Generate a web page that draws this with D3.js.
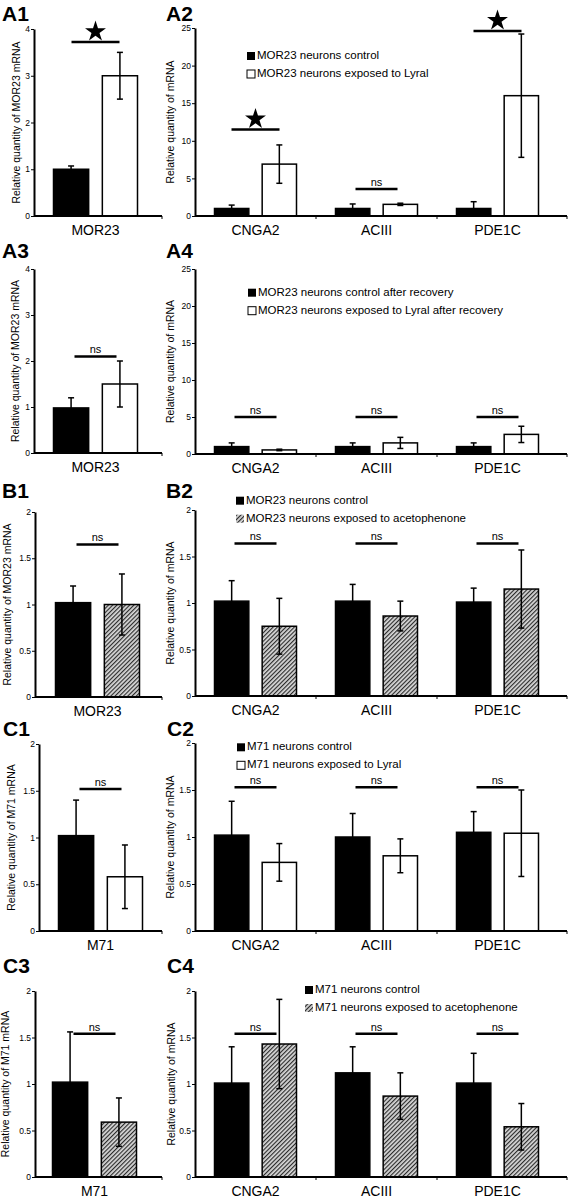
<!DOCTYPE html>
<html><head><meta charset="utf-8">
<script src="https://cdn.jsdelivr.net/npm/d3@7"></script>
<style>body{margin:0;background:#fff}svg{display:block}text{font-family:"Liberation Sans",Arial,sans-serif;fill:#000}</style>
</head><body><svg id="c" width="569" height="1199"></svg>
<script>
// ---------- data ----------
const catsMOR23 = ["MOR23"];
const catsM71 = ["M71"];
const catsGenes = ["CNGA2", "ACIII", "PDE1C"];

const ticksA1 = [0, 1, 2, 3, 4];
const ticksA2 = [0, 5, 10, 15, 20, 25];
const ticksB = [0, 0.5, 1, 1.5, 2];

const ylabMOR23 = "Relative quantity of MOR23 mRNA";
const ylabM71 = "Relative quantity of M71 mRNA";
const ylabGenes = "Relative quantity of mRNA";

const a1Control = [1.0], a1ControlErr = [0.07], a1Treated = [3.0], a1TreatedErr = [0.5];
const a1Sig = ["★"], a1SigLevel = [3.72];

const a2Control = [1.0, 1.0, 1.0], a2ControlErr = [0.45, 0.6, 0.9];
const a2Treated = [6.9, 1.55, 16.0], a2TreatedErr = [2.55, 0.15, 8.2];
const a2Sig = ["★", "ns", "★"], a2SigLevel = [11.5, 3.6, 24.6];
const a2Legend = ["MOR23 neurons control", "MOR23 neurons exposed to Lyral"];

const a3Control = [0.98], a3ControlErr = [0.22], a3Treated = [1.5], a3TreatedErr = [0.5];
const a3Sig = ["ns"], a3SigLevel = [2.1];

const a4Control = [1.0, 1.0, 1.0], a4ControlErr = [0.5, 0.5, 0.5];
const a4Treated = [0.55, 1.5, 2.65], a4TreatedErr = [0.1, 0.75, 1.1];
const a4Sig = ["ns", "ns", "ns"], a4SigLevel = [5.0, 5.0, 5.0];
const a4Legend = ["MOR23 neurons control after recovery", "MOR23 neurons exposed to Lyral after recovery"];

const b1Control = [1.02], b1ControlErr = [0.18], b1Treated = [1.0], b1TreatedErr = [0.33];
const b1Sig = ["ns"], b1SigLevel = [1.65];

const b2Control = [1.02, 1.02, 1.01], b2ControlErr = [0.22, 0.18, 0.15];
const b2Treated = [0.75, 0.86, 1.15], b2TreatedErr = [0.30, 0.16, 0.42];
const b2Sig = ["ns", "ns", "ns"], b2SigLevel = [1.64, 1.64, 1.64];
const b2Legend = ["MOR23 neurons control", "MOR23 neurons exposed to acetophenone"];

const c1Control = [1.02], c1ControlErr = [0.38], c1Treated = [0.58], c1TreatedErr = [0.34];
const c1Sig = ["ns"], c1SigLevel = [1.52];

const c2Control = [1.02, 1.0, 1.05], c2ControlErr = [0.36, 0.25, 0.22];
const c2Treated = [0.73, 0.80, 1.04], c2TreatedErr = [0.20, 0.18, 0.46];
const c2Sig = ["ns", "ns", "ns"], c2SigLevel = [1.53, 1.53, 1.53];
const c2Legend = ["M71 neurons control", "M71 neurons exposed to Lyral"];

const c3Control = [1.02], c3ControlErr = [0.54], c3Treated = [0.59], c3TreatedErr = [0.26];
const c3Sig = ["ns"], c3SigLevel = [1.54];

const c4Control = [1.01, 1.12, 1.01], c4ControlErr = [0.39, 0.28, 0.32];
const c4Treated = [1.43, 0.87, 0.54], c4TreatedErr = [0.48, 0.25, 0.25];
const c4Sig = ["ns", "ns", "ns"], c4SigLevel = [1.54, 1.54, 1.54];
const c4Legend = ["M71 neurons control", "M71 neurons exposed to acetophenone"];

// ---------- layout ----------
const svg = d3.select("#c");
const defs = svg.append("defs");
const pat = defs.append("pattern").attr("id", "hatch").attr("patternUnits", "userSpaceOnUse")
  .attr("width", 3).attr("height", 3).attr("patternTransform", "rotate(45)");
pat.append("rect").attr("width", 3).attr("height", 3).attr("fill", "#d8d8d8");
pat.append("line").attr("x1", 0.6).attr("y1", 0).attr("x2", 0.6).attr("y2", 3).attr("stroke", "#222").attr("stroke-width", 1.1);

const RIGHT = {x0: 195, x1: 567, bandEnd: 558, half: 41};

const panels = [
  {title: "A1", tx: 2, ty: 21, x0: 34, x1: 162, bandEnd: 157, half: 42, y0: 216, yTop: 29, max: 4, ticks: ticksA1, ylab: ylabMOR23, ylx: 17.5,
   cats: catsMOR23, ctl: a1Control, ctlE: a1ControlErr, trt: a1Treated, trtE: a1TreatedErr, style: "white", sig: a1Sig, sigL: a1SigLevel},
  {title: "A2", tx: 166, ty: 21, ...RIGHT, y0: 216, yTop: 28, max: 25, ticks: ticksA2, ylab: ylabGenes, ylx: 171,
   cats: catsGenes, ctl: a2Control, ctlE: a2ControlErr, trt: a2Treated, trtE: a2TreatedErr, style: "white", sig: a2Sig, sigL: a2SigLevel,
   legend: a2Legend, lx: 247, ly: 56},
  {title: "A3", tx: 2, ty: 258, x0: 34, x1: 162, bandEnd: 157, half: 42, y0: 453, yTop: 269, max: 4, ticks: ticksA1, ylab: ylabMOR23, ylx: 16.5,
   cats: catsMOR23, ctl: a3Control, ctlE: a3ControlErr, trt: a3Treated, trtE: a3TreatedErr, style: "white", sig: a3Sig, sigL: a3SigLevel},
  {title: "A4", tx: 166, ty: 258, ...RIGHT, y0: 454, yTop: 269, max: 25, ticks: ticksA2, ylab: ylabGenes, ylx: 171,
   cats: catsGenes, ctl: a4Control, ctlE: a4ControlErr, trt: a4Treated, trtE: a4TreatedErr, style: "white", sig: a4Sig, sigL: a4SigLevel,
   legend: a4Legend, lx: 248, ly: 292.7},
  {title: "B1", tx: 2, ty: 498, x0: 35, x1: 162, bandEnd: 160, half: 42, y0: 697, yTop: 512, max: 2, ticks: ticksB, ylab: ylabMOR23, ylx: 8,
   cats: catsMOR23, ctl: b1Control, ctlE: b1ControlErr, trt: b1Treated, trtE: b1TreatedErr, style: "hatch", sig: b1Sig, sigL: b1SigLevel},
  {title: "B2", tx: 166, ty: 498, ...RIGHT, y0: 696, yTop: 510, max: 2, ticks: ticksB, ylab: ylabGenes, ylx: 171,
   cats: catsGenes, ctl: b2Control, ctlE: b2ControlErr, trt: b2Treated, trtE: b2TreatedErr, style: "hatch", sig: b2Sig, sigL: b2SigLevel,
   legend: b2Legend, lx: 236, ly: 500.7},
  {title: "C1", tx: 3, ty: 736, x0: 39, x1: 162, bandEnd: 162, half: 42, y0: 931, yTop: 744, max: 2, ticks: ticksB, ylab: ylabM71, ylx: 12.5,
   cats: catsM71, ctl: c1Control, ctlE: c1ControlErr, trt: c1Treated, trtE: c1TreatedErr, style: "white", sig: c1Sig, sigL: c1SigLevel},
  {title: "C2", tx: 167, ty: 736, ...RIGHT, y0: 931, yTop: 743, max: 2, ticks: ticksB, ylab: ylabGenes, ylx: 171,
   cats: catsGenes, ctl: c2Control, ctlE: c2ControlErr, trt: c2Treated, trtE: c2TreatedErr, style: "white", sig: c2Sig, sigL: c2SigLevel,
   legend: c2Legend, lx: 237, ly: 747.3},
  {title: "C3", tx: 3, ty: 973, x0: 35, x1: 162, bandEnd: 154, half: 42, y0: 1177, yTop: 991, max: 2, ticks: ticksB, ylab: ylabM71, ylx: 6,
   cats: catsM71, ctl: c3Control, ctlE: c3ControlErr, trt: c3Treated, trtE: c3TreatedErr, style: "hatch", sig: c3Sig, sigL: c3SigLevel},
  {title: "C4", tx: 167, ty: 973, ...RIGHT, y0: 1177, yTop: 991, max: 2, ticks: ticksB, ylab: ylabGenes, ylx: 172,
   cats: catsGenes, ctl: c4Control, ctlE: c4ControlErr, trt: c4Treated, trtE: c4TreatedErr, style: "hatch", sig: c4Sig, sigL: c4SigLevel,
   legend: c4Legend, lx: 305, ly: 990}
];

function fillFor(series, style) {
  if (series === "c") return "#000";
  return style === "hatch" ? "url(#hatch)" : "#fff";
}

panels.forEach(p => {
  const g = svg.append("g");
  const y = d3.scaleLinear().domain([0, p.max]).range([p.y0, p.yTop]);
  const x = d3.scaleBand().domain(p.cats).range([p.x0, p.bandEnd]);
  const inner = d3.scaleBand().domain(["c", "t"]).range([-p.half, p.half]).paddingInner(0.28);

  // title
  g.append("text").attr("x", p.tx).attr("y", p.ty).attr("font-size", 21).attr("font-weight", "bold").text(p.title);

  // y axis
  const ya = g.append("g").attr("transform", `translate(${p.x0},0)`)
    .call(d3.axisLeft(y).tickValues(p.ticks).tickSizeInner(3).tickSizeOuter(0).tickPadding(1).tickFormat(d3.format("~g")));
  ya.select(".domain").attr("stroke-width", 2);
  ya.selectAll(".tick line").attr("stroke-width", 1);
  ya.selectAll(".tick text").attr("font-size", 8.5).attr("font-family", "Liberation Sans, Arial, sans-serif");

  // y label
  g.append("text").attr("transform", `translate(${p.ylx},${(p.y0 + p.yTop) / 2}) rotate(-90)`)
    .attr("text-anchor", "middle").attr("dominant-baseline", "middle").attr("font-size", 10.5).text(p.ylab);

  // bars
  const rows = [];
  p.cats.forEach((c, i) => {
    rows.push({c, s: "c", v: p.ctl[i], e: p.ctlE[i]});
    rows.push({c, s: "t", v: p.trt[i], e: p.trtE[i]});
  });
  const cx = c => x(c) + x.bandwidth() / 2;
  g.selectAll("rect.bar").data(rows).join("rect").attr("class", "bar")
    .attr("x", d => cx(d.c) + inner(d.s)).attr("width", inner.bandwidth())
    .attr("y", d => y(d.v)).attr("height", d => p.y0 - y(d.v))
    .attr("fill", d => fillFor(d.s, p.style)).attr("stroke", "#000").attr("stroke-width", 1.5);

  // error bars
  const eb = g.selectAll("g.err").data(rows).join("g").attr("class", "err")
    .attr("transform", d => `translate(${cx(d.c) + inner(d.s) + inner.bandwidth() / 2},0)`);
  eb.append("line").attr("y1", d => y(d.v - d.e)).attr("y2", d => y(d.v + d.e)).attr("stroke", "#000").attr("stroke-width", 1.5);
  eb.append("line").attr("x1", -3).attr("x2", 3).attr("y1", d => y(d.v + d.e)).attr("y2", d => y(d.v + d.e)).attr("stroke", "#000").attr("stroke-width", 1.5);
  eb.append("line").attr("x1", -3).attr("x2", 3).attr("y1", d => y(d.v - d.e)).attr("y2", d => y(d.v - d.e)).attr("stroke", "#000").attr("stroke-width", 1.5);

  // x axis
  g.append("line").attr("x1", p.x0).attr("x2", p.x1).attr("y1", p.y0).attr("y2", p.y0).attr("stroke", "#000").attr("stroke-width", 2);
  const bounds = p.cats.slice(1).map(c => x(c)).concat([p.x1]);
  g.selectAll("line.xt").data(bounds).join("line").attr("class", "xt")
    .attr("x1", d => d).attr("x2", d => d).attr("y1", p.y0).attr("y2", p.y0 + 3).attr("stroke", "#000").attr("stroke-width", 1);
  g.selectAll("text.cat").data(p.cats).join("text").attr("class", "cat")
    .attr("x", d => cx(d)).attr("y", p.y0 + 19).attr("text-anchor", "middle").attr("font-size", 14).text(d => d);

  // significance
  p.cats.forEach((c, i) => {
    const s = p.sig[i], yy = y(p.sigL[i]);
    const isStar = s === "★";
    const hw = isStar ? 24 : 21;
    g.append("line").attr("x1", cx(c) - hw).attr("x2", cx(c) + hw).attr("y1", yy).attr("y2", yy)
      .attr("stroke", "#000").attr("stroke-width", 2.5);
    if (isStar) {
      g.append("path").attr("d", d3.symbol(d3.symbolStar, 136)()).attr("fill", "#000")
        .attr("transform", `translate(${cx(c)},${yy - 10.5})`);
    } else {
      g.append("text").attr("x", cx(c)).attr("y", yy - 3).attr("text-anchor", "middle").attr("font-size", 11).text(s);
    }
  });

  // legend
  if (p.legend) {
    p.legend.forEach((t, i) => {
      const ly = p.ly + i * 18;
      g.append("rect").attr("x", p.lx).attr("y", ly - 4).attr("width", 8).attr("height", 8)
        .attr("fill", fillFor(i === 0 ? "c" : "t", p.style)).attr("stroke", "#000").attr("stroke-width", i === 0 ? 0 : (p.style === "hatch" ? 0 : 1));
      g.append("text").attr("x", p.lx + 10).attr("y", ly).attr("dominant-baseline", "middle").attr("font-size", 11.5).text(t);
    });
  }
});
</script></body></html>
